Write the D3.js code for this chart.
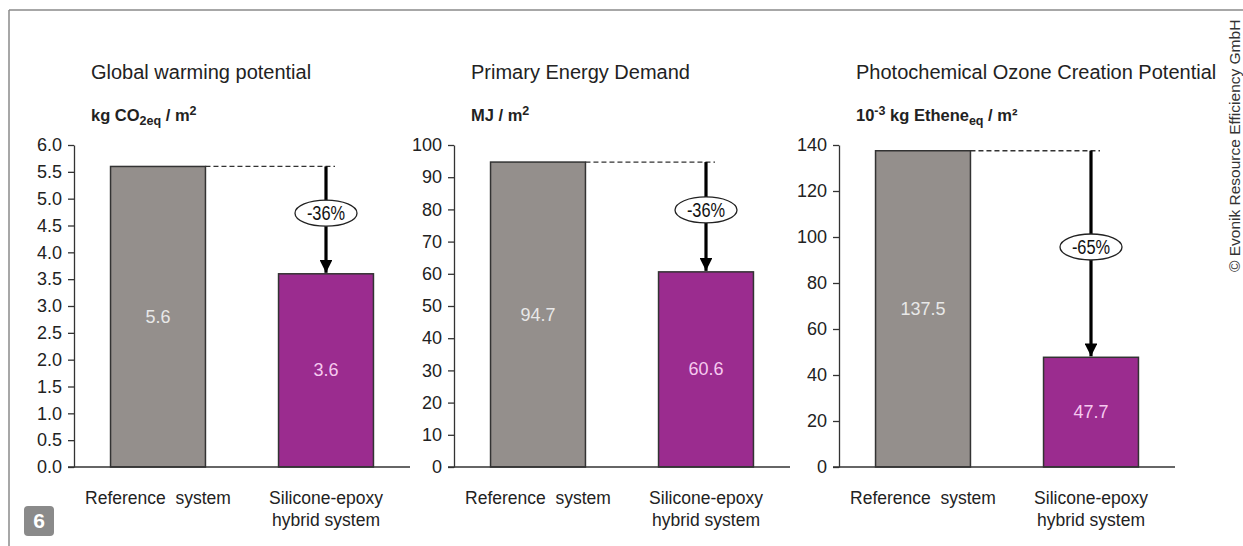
<!DOCTYPE html>
<html>
<head>
<meta charset="utf-8">
<script src="https://cdn.jsdelivr.net/npm/d3@7"></script>
<style>
  html, body { margin: 0; padding: 0; background: #fff; }
  svg { display: block; }
  text { font-family: "Liberation Sans", Arial, sans-serif; }
</style>
</head>
<body>
<svg id="chart" width="1243" height="546"></svg>
<script>
// Life-cycle impact comparison, one panel per indicator
const categories = ["Reference system", "Silicone-epoxy hybrid system"];
const panelTitles = ["Global warming potential", "Primary Energy Demand", "Photochemical Ozone Creation Potential"];
const referenceValues = [5.6, 94.7, 137.5];
const hybridValues = [3.6, 60.6, 47.7];
const reductionLabels = ["-36%", "-36%", "-65%"];
const axisMax = [6, 100, 140];
const tickValues1 = [0, 0.5, 1, 1.5, 2, 2.5, 3, 3.5, 4, 4.5, 5, 5.5, 6];
const tickValues2 = [0, 10, 20, 30, 40, 50, 60, 70, 80, 90, 100];
const tickValues3 = [0, 20, 40, 60, 80, 100, 120, 140];
const tickFormats = [".1f", "d", "d"];

// unit lines: pieces of [text, kind] where kind is "n" normal, "sub", "sup"
const unitParts = [
  [["kg CO", "n"], ["2eq", "sub"], [" / m", "n"], ["2", "sup"]],
  [["MJ / m", "n"], ["2", "sup"]],
  [["10", "n"], ["-3", "sup"], [" kg Ethene", "n"], ["eq", "sub"], [" / m²", "n"]]
];

const svg = d3.select("#chart");
const panelLeft = [74, 454, 839];
const plotW = 336, yTop = 145, yBottom = 467;
const tickSets = [tickValues1, tickValues2, tickValues3];
const barFills = ["#948f8c", "#9b2c8f"];
const labelFills = ["#e8e8e8", "#f6c9f0"];

// frame lines
svg.append("line").attr("x1", 9).attr("x2", 1243).attr("y1", 10).attr("y2", 10)
  .attr("stroke", "#8a8a8a").attr("stroke-width", 1.5);
svg.append("line").attr("x1", 9).attr("x2", 9).attr("y1", 10).attr("y2", 546)
  .attr("stroke", "#8a8a8a").attr("stroke-width", 1.5);

// arrowhead marker
svg.append("defs").append("marker")
  .attr("id", "arrowhead").attr("viewBox", "0 0 10 10")
  .attr("refX", 10).attr("refY", 5)
  .attr("markerWidth", 4).attr("markerHeight", 4)
  .attr("markerUnits", "strokeWidth")
  .attr("orient", "auto")
  .append("path").attr("d", "M0,0 L10,5 L0,10 Z").attr("fill", "#000");

panelTitles.forEach((title, i) => {
  const g = svg.append("g").attr("transform", `translate(${panelLeft[i]},0)`);
  const values = [referenceValues[i], hybridValues[i]];

  const y = d3.scaleLinear().domain([0, axisMax[i]]).range([yBottom, yTop]);
  const x = d3.scaleBand().domain(categories).range([0, plotW])
    .paddingInner(0.435).paddingOuter(0.2175);

  // title and unit
  g.append("text").attr("x", 17).attr("y", 79)
    .attr("font-size", 20).attr("fill", "#222").text(title);
  const unit = g.append("text").attr("x", 17).attr("y", 121)
    .attr("font-size", 16.5).attr("font-weight", "bold").attr("fill", "#222");
  const off = { n: 0, sub: 3.5, sup: -6 };
  unitParts[i].forEach(([t, kind], k) => {
    const prev = k > 0 ? unitParts[i][k - 1][1] : "n";
    const ts = unit.append("tspan").text(t).attr("dy", off[kind] - off[prev]);
    if (kind !== "n") ts.attr("font-size", 12.5);
  });

  // bars
  g.selectAll("rect.bar").data(values).join("rect")
    .attr("class", "bar")
    .attr("x", (d, k) => x(categories[k]))
    .attr("width", x.bandwidth())
    .attr("y", d => y(d))
    .attr("height", d => y(0) - y(d))
    .attr("fill", (d, k) => barFills[k])
    .attr("stroke", "#333").attr("stroke-width", 1.5);

  // value labels in the middle of each bar
  g.selectAll("text.val").data(values).join("text")
    .attr("class", "val")
    .attr("x", (d, k) => x(categories[k]) + x.bandwidth() / 2)
    .attr("y", d => (y(d) + y(0)) / 2 + 6)
    .attr("text-anchor", "middle")
    .attr("font-size", 18)
    .attr("fill", (d, k) => labelFills[k])
    .text(d => d3.format(".1f")(d));

  // y axis
  const yAxis = d3.axisLeft(y).tickValues(tickSets[i])
    .tickFormat(d3.format(tickFormats[i])).tickSize(6).tickSizeOuter(0).tickPadding(6);
  const ya = g.append("g").call(yAxis);
  ya.select(".domain").attr("stroke", "#333").attr("stroke-width", 1.3);
  ya.selectAll(".tick line").attr("stroke", "#333").attr("stroke-width", 1.3);
  ya.selectAll(".tick text").attr("font-size", 18).attr("fill", "#222")
    .attr("font-family", "'Liberation Sans', Arial, sans-serif");

  // baseline
  g.append("line").attr("x1", -6).attr("x2", plotW).attr("y1", y(0)).attr("y2", y(0))
    .attr("stroke", "#333").attr("stroke-width", 1.5);

  // category labels
  const catLines = [["Reference  system"], ["Silicone-epoxy", "hybrid system"]];
  categories.forEach((c, k) => {
    const t = g.append("text")
      .attr("x", x(c) + x.bandwidth() / 2).attr("y", 504)
      .attr("text-anchor", "middle").attr("font-size", 17.5).attr("fill", "#222")
      .attr("xml:space", "preserve");
    catLines[k].forEach((line, j) => {
      t.append("tspan").attr("x", x(c) + x.bandwidth() / 2)
        .attr("dy", j === 0 ? 0 : 22).text(line);
    });
  });

  // dashed reference level and reduction arrow
  const refX = x(categories[0]) + x.bandwidth();
  const arrowX = x(categories[1]) + x.bandwidth() / 2;
  const yRef = y(referenceValues[i]);
  const yNew = y(hybridValues[i]);
  g.append("line").attr("x1", refX).attr("x2", arrowX + 9)
    .attr("y1", yRef).attr("y2", yRef)
    .attr("stroke", "#333").attr("stroke-width", 1.3).attr("stroke-dasharray", "5,3");
  g.append("line").attr("x1", arrowX).attr("x2", arrowX)
    .attr("y1", yRef).attr("y2", yNew - 1)
    .attr("stroke", "#000").attr("stroke-width", 3.2)
    .attr("marker-end", "url(#arrowhead)");

  const ey = (yRef + yNew) / 2 - 7;
  g.append("ellipse").attr("cx", arrowX).attr("cy", ey).attr("rx", 31).attr("ry", 13)
    .attr("fill", "#fff").attr("stroke", "#222").attr("stroke-width", 1.3);
  g.append("g").attr("transform", `translate(${arrowX},${ey + 7}) scale(0.78,1)`)
    .append("text").attr("x", 0).attr("y", 0)
    .attr("text-anchor", "middle").attr("font-size", 21)
    .attr("fill", "#111")
    .text(reductionLabels[i]);
});

// figure number badge
svg.append("rect").attr("x", 24).attr("y", 506).attr("width", 30).attr("height", 30)
  .attr("rx", 4).attr("fill", "#8a8a8a");
svg.append("text").attr("x", 39).attr("y", 528).attr("text-anchor", "middle")
  .attr("font-size", 21).attr("font-weight", "bold").attr("fill", "#fff")
  .attr("font-family", "'Open Sans', 'DejaVu Sans', sans-serif").text("6");

// copyright note, vertical
svg.append("text").attr("transform", "translate(1240,272) rotate(-90)")
  .attr("font-size", 15.5).attr("fill", "#333")
  .attr("font-family", "'Open Sans', 'DejaVu Sans', sans-serif")
  .text("© Evonik Resource Efficiency GmbH");
</script>
</body>
</html>
